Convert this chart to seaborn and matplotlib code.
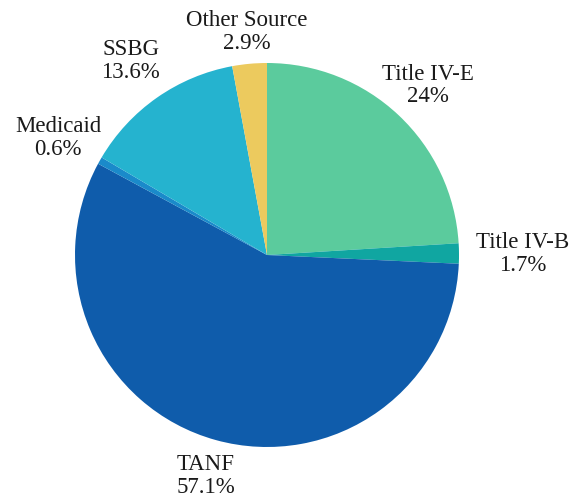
import matplotlib
matplotlib.use("Agg")
import matplotlib.pyplot as plt
import seaborn as sns
import numpy as np

sns.set_theme(style="white")
plt.rcParams['font.family'] = ['Liberation Serif', 'DejaVu Serif']

categories = ["Title IV-E", "Title IV-B", "TANF", "Medicaid", "SSBG", "Other Source"]
values = [24.0, 1.7, 57.1, 0.6, 13.6, 2.9]
pct_labels = ["24%", "1.7%", "57.1%", "0.6%", "13.6%", "2.9%"]
colors = ["#5BCB9D", "#10A6A1", "#0F5CAB", "#1A8ACA", "#25B3CF", "#ECCA5E"]

fig = plt.figure(figsize=(5.8, 5.02), dpi=100)
ax = fig.add_axes([0, 0, 1, 1])
cx, cy, r = 267, 246, 192
wedges, _ = ax.pie(values, colors=colors, startangle=90, counterclock=False,
                   center=(cx, cy), radius=r,
                   wedgeprops=dict(linewidth=0, antialiased=True))
dist = [1.22, 1.33, 1.19, 1.25, 1.24, 1.17]
for w, cat, pl, d in zip(wedges, categories, pct_labels, dist):
    ang = np.deg2rad((w.theta1 + w.theta2) / 2)
    x = cx + d * r * np.cos(ang)
    y = cy + d * r * np.sin(ang)
    ax.text(x, y, f"{cat}\n{pl}", ha="center", va="center", fontsize=16.5,
            color="#1a1a1a", linespacing=1.1, multialignment="center")
ax.set_xlim(0, 580)
ax.set_ylim(0, 502)
ax.set_aspect("equal")
ax.axis("off")
fig.savefig("out.png", dpi=100, facecolor="white")
